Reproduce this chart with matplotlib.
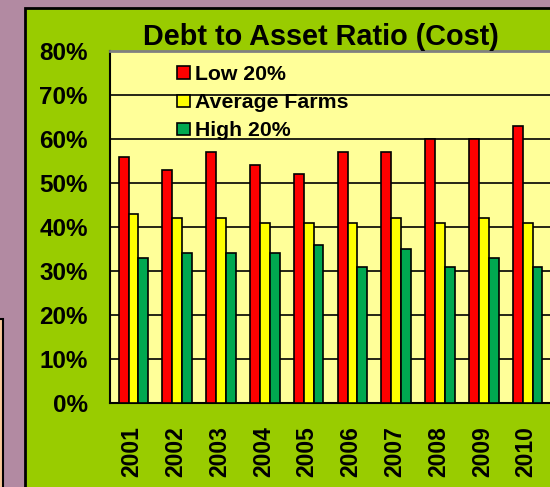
import numpy as np
import matplotlib
matplotlib.use('Agg')
import matplotlib.pyplot as plt
from matplotlib.patches import Rectangle, Patch

plt.rcParams['font.family'] = ['Liberation Sans', 'DejaVu Sans']
plt.rcParams['font.weight'] = 'bold'

years = ['2001', '2002', '2003', '2004', '2005', '2006', '2007', '2008', '2009', '2010']
low20 = [56, 53, 57, 54, 52, 57, 57, 60, 60, 63]
average = [43, 42, 42, 41, 41, 41, 42, 41, 42, 41]
high20 = [33, 34, 34, 34, 36, 31, 35, 31, 33, 31]
series_names = ['Low 20%', 'Average Farms', 'High 20%']
colors = ['#FF0000', '#FFFF00', '#00A850']

W, H = 550, 487
fig = plt.figure(figsize=(W / 100, H / 100), dpi=100)
fig.patch.set_facecolor('#B28AA2')

# peach box peeking in at bottom left
fig.patches.append(Rectangle((-10 / W, -0.1), 13 / W, (487 - 319) / H + 0.1,
                             transform=fig.transFigure, facecolor='#F8C89A',
                             edgecolor='black', lw=1.5, zorder=-2))
# green chart panel
fig.patches.append(Rectangle((25 / W, -0.1), 1.0, 1 - 8 / H + 0.1,
                             transform=fig.transFigure, facecolor='#99CC00',
                             edgecolor='black', lw=2, zorder=-2))

ax = fig.add_axes([110 / W, (H - 403) / H, 442 / W, 352 / H])
ax.set_facecolor('#FFFF99')

x = np.arange(len(years))
w = 0.225
for i, (vals, c) in enumerate(zip([low20, average, high20], colors)):
    ax.bar(x + (i - 1) * w + 0.035, vals, width=w, color=c, edgecolor='black',
           linewidth=1.2, zorder=3)

ax.set_ylim(0, 80)
ax.set_xlim(-0.5, -0.5 + 442 / 43.8)
ax.set_yticks(range(0, 81, 10))
ax.set_yticklabels([f'{v}%' for v in range(0, 81, 10)], fontsize=17.5, fontweight='bold')
ax.set_xticks(x)
ax.set_xticklabels(years, rotation=90, fontsize=16.5, fontweight='bold')
ax.tick_params(axis='both', length=0)
ax.tick_params(axis='y', pad=16)
ax.tick_params(axis='x', pad=16.5)
ax.yaxis.grid(True, color='black', lw=1.2, zorder=0)
ax.set_axisbelow(True)

for s in ['left', 'bottom']:
    ax.spines[s].set_linewidth(1.5)
    ax.spines[s].set_color('black')
ax.spines['top'].set_color('#808080')
ax.spines['top'].set_linewidth(2)
ax.spines['right'].set_visible(False)

fig.text(321 / W, 1 - 45 / H, 'Debt to Asset Ratio (Cost)', ha='center', va='baseline',
         fontsize=20.8, fontweight='bold')

handles = [Patch(facecolor=c, edgecolor='black', lw=1.2) for c in colors]
ax.legend(handles, series_names, loc='upper left',
          bbox_to_anchor=(177 / W, 1 - 65 / H), bbox_transform=fig.transFigure,
          frameon=False, handlelength=0.6, handleheight=0.5,
          handletextpad=0.25, labelspacing=0.43, borderpad=0, borderaxespad=0,
          prop={'weight': 'bold', 'size': 15.3})

fig.savefig('out.png', dpi=100, facecolor=fig.get_facecolor())
